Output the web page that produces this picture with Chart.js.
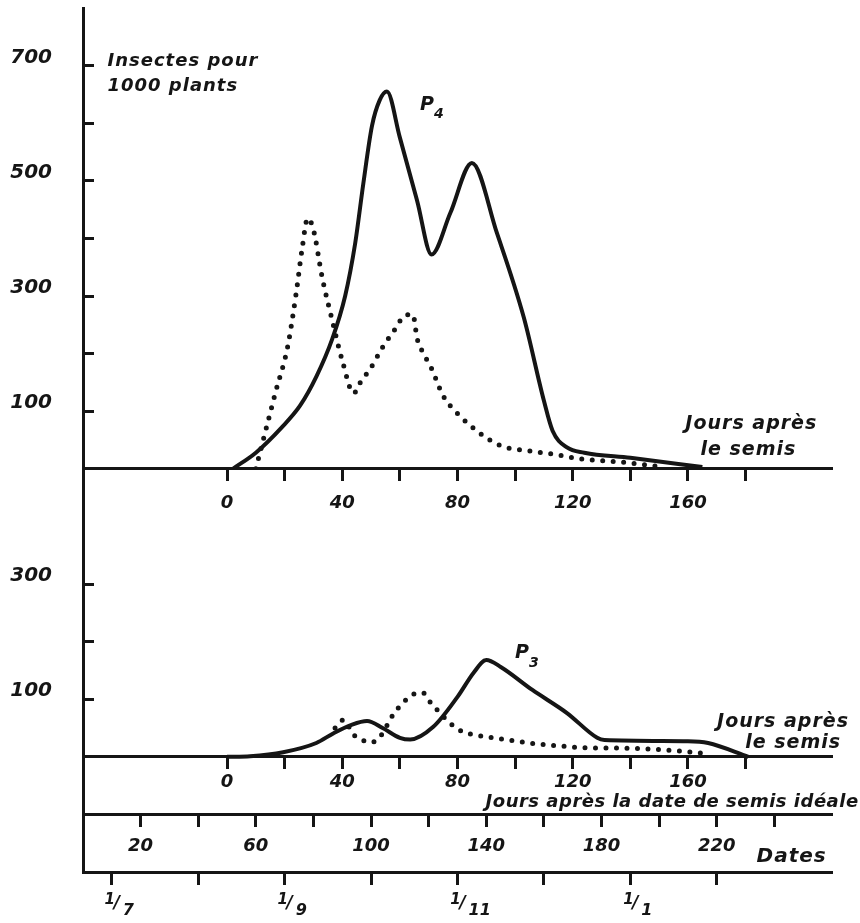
<!DOCTYPE html>
<html>
<head>
<meta charset="utf-8">
<title>Insectes pour 1000 plants - P4 / P3</title>
<script src="https://cdn.jsdelivr.net/npm/chart.js@4.4.1/dist/chart.umd.min.js"></script>
<style>
    html, body { margin: 0; padding: 0; background: #ffffff; }
    #wrap { width: 860px; height: 923px; }
</style>
</head>
<body>
<div id="wrap"><canvas id="myChart" width="860" height="923"></canvas></div>
<script>
// P4 - upper panel (jours apres le semis -> insectes pour 1000 plants)
var p4SolidDays = [2, 10, 19, 25.4, 31, 36.5, 41, 44.5, 47.3, 50.3, 53, 55.5, 60, 66, 71, 77.5, 85, 93.7, 103, 110, 113, 118, 124, 140, 165];
var p4SolidVals = [0, 28, 72, 110, 160, 225, 300, 392, 495, 595, 640, 655, 575, 465, 372, 444, 531, 409, 263, 118, 66, 37, 28, 19, 3];
var p4DotDays = [10, 14, 17, 21, 24, 26, 28, 30, 33, 36.5, 40, 44, 46, 50, 54, 58, 62, 64.5, 66, 68, 71, 75, 80, 88, 95, 105, 115, 123, 136, 150];
var p4DotVals = [0, 78, 136, 211, 305, 380, 435, 415, 333, 258, 188, 131, 148, 176, 211, 240, 267, 268, 226, 202, 174, 127, 96, 61, 40, 31, 24, 17, 12, 4];

// P3 - lower panel
var p3SolidDays = [0, 8, 19.5, 31, 37, 43, 48.6, 54, 60, 63.6, 71.6, 80, 85.6, 90, 95, 106, 118, 128.5, 131, 160, 167, 181];
var p3SolidVals = [0, 1, 8, 24, 41, 55, 62, 50, 33, 30, 52, 104, 146, 168, 156, 116, 76, 33, 29, 27, 24, 0];
var p3DotDays = [37.5, 40.4, 44, 47, 50, 53, 58, 61, 64, 68, 70.5, 73, 77.5, 82, 86, 91, 99, 108, 115, 123, 137, 149, 161.6, 166];
var p3DotVals = [50, 64, 38, 29, 25, 34, 76, 93, 107, 111, 95, 81, 58, 43, 38, 34, 28, 22, 19, 16, 15, 13, 8, 6];

// axis ticks
var sowTicks = [0, 20, 40, 60, 80, 100, 120, 140, 160, 180];
var sowLabels = [0, 40, 80, 120, 160];
var idealTicks = [20, 40, 60, 80, 100, 120, 140, 160, 180, 200, 220, 240];
var idealLabels = [20, 60, 100, 140, 180, 220];
var dateTicks = [10, 40, 70, 100, 130, 160, 190, 220];      // in "jours apres la date ideale"
var dateLabels = ['1/7', '', '1/9', '', '1/11', '', '1/1', ''];
var topTicks = [100, 200, 300, 400, 500, 600, 700];
var topLabels = [100, 300, 500, 700];
var botTicks = [100, 200, 300];
var botLabels = [100, 300];

var INK = '#151515';
var FAMILY = '"DejaVu Sans", sans-serif';

function pts(xs, ys) {
    return xs.map(function(x, i) { return { x: x, y: ys[i] }; });
}

function fixedTicks(list) {
    return function(scale) {
        scale.ticks = list.map(function(v) { return { value: v }; });
    };
}

function onlyLabels(list) {
    return function(value) {
        return list.indexOf(value) >= 0 ? String(value) : '';
    };
}

// labels must not push the plot area around
function noPadding(scale) {
    scale.paddingTop = 0;
    scale.paddingBottom = 0;
    scale.paddingLeft = 0;
    scale.paddingRight = 0;
}

function xAxis(pos, min, max, ticks, labels, pad) {
    return {
        type: 'linear',
        axis: 'x',
        position: pos,
        min: min,
        max: max,
        afterBuildTicks: fixedTicks(ticks),
        afterFit: noPadding,
        border: { display: true, color: INK, width: 3 },
        grid: { drawOnChartArea: false, drawTicks: true, tickLength: 11, tickWidth: 3, tickColor: INK },
        ticks: {
            color: INK,
            padding: pad,
            maxRotation: 0,
            autoSkip: false,
            font: { family: FAMILY, size: 18, style: 'italic', weight: 'bold' },
            callback: labels ? onlyLabels(labels) : function() { return ''; }
        }
    };
}

function yAxis(weight, min, max, ticks, labels) {
    return {
        type: 'linear',
        axis: 'y',
        position: 'left',
        stack: 'panels',
        stackWeight: weight,
        min: min,
        max: max,
        afterBuildTicks: fixedTicks(ticks),
        afterFit: function(scale) { noPadding(scale); scale.width = 83; },
        border: { display: true, color: INK, width: 3 },
        grid: { drawOnChartArea: false, drawTicks: true, tickLength: -11, tickWidth: 3, tickColor: INK },
        ticks: {
            color: INK,
            padding: 42,
            labelOffset: -8,
            autoSkip: false,
            font: { family: FAMILY, size: 20, style: 'italic', weight: 'bold' },
            callback: onlyLabels(labels)
        }
    };
}

// texts written on the figure
const annotations = {
    id: 'annotations',
    afterDraw(chart) {
        const ctx = chart.ctx;
        const s = chart.scales;
        const font = function(px) { return 'italic bold ' + px + 'px ' + FAMILY; };
        ctx.save();
        ctx.fillStyle = INK;
        ctx.textBaseline = 'middle';

        ctx.font = font(18);
        ctx.letterSpacing = '1px';
        ctx.textAlign = 'left';
        ctx.fillText('Insectes pour', s.xTop.getPixelForValue(-41.5), s.yTop.getPixelForValue(707));
        ctx.fillText('1000 plants', s.xTop.getPixelForValue(-41.5), s.yTop.getPixelForValue(664));

        ctx.font = font(19);
        ctx.textAlign = 'center';
        ctx.fillText('Jours après', s.xTop.getPixelForValue(182), s.yTop.getPixelForValue(78));
        ctx.fillText('le semis', s.xTop.getPixelForValue(181), s.yTop.getPixelForValue(32));
        ctx.fillText('Jours après', s.xBot.getPixelForValue(193), s.yBot.getPixelForValue(60));
        ctx.fillText('le semis', s.xBot.getPixelForValue(196.5), s.yBot.getPixelForValue(24));
        ctx.font = font(18);
        ctx.letterSpacing = '0.5px';
        ctx.fillText('Jours après la date de semis idéale', s.xIdeal.getPixelForValue(204.5), s.yBot.getPixelForValue(-79));
        ctx.font = font(20);
        ctx.letterSpacing = '1px';
        ctx.fillText('Dates', s.xIdeal.getPixelForValue(246), s.yBot.getPixelForValue(-174));
        ctx.letterSpacing = '0px';

        // curve names with subscript
        ctx.textAlign = 'left';
        var px = s.xTop.getPixelForValue(67), py = s.yTop.getPixelForValue(632);
        ctx.font = font(19);
        ctx.fillText('P', px, py);
        ctx.font = font(14);
        ctx.fillText('4', px + 14, py + 10);
        px = s.xBot.getPixelForValue(100);
        py = s.yBot.getPixelForValue(180);
        ctx.font = font(19);
        ctx.fillText('P', px, py);
        ctx.font = font(14);
        ctx.fillText('3', px + 14, py + 10);

        // month labels written as 1/7, 1/9 ...
        var yb = s.yBot.getPixelForValue(-200);
        dateTicks.forEach(function(v, i) {
            var lab = dateLabels[i];
            if (!lab) return;
            var parts = lab.split('/');
            var x = s.xDates.getPixelForValue(v) + 6;
            ctx.textAlign = 'center';
            ctx.font = font(15);
            ctx.fillText(parts[0], x - 8, yb + 28);
            ctx.font = font(17);
            ctx.fillText('/', x - 1, yb + 32);
            ctx.textAlign = 'left';
            ctx.font = font(16);
            ctx.fillText(parts[1], x + 5, yb + 39);
        });
        ctx.restore();
    }
};

var ctx = document.getElementById('myChart').getContext('2d');
var myChart = new Chart(ctx, {
    type: 'line',
    data: {
        datasets: [
            {
                label: 'P4',
                data: pts(p4SolidDays, p4SolidVals),
                xAxisID: 'xTop', yAxisID: 'yTop',
                borderColor: INK, borderWidth: 4, borderJoinStyle: 'round',
                pointRadius: 0, cubicInterpolationMode: 'monotone'
            },
            {
                label: 'P4 pointillé',
                data: pts(p4DotDays, p4DotVals),
                xAxisID: 'xTop', yAxisID: 'yTop',
                borderColor: INK, borderWidth: 5, borderDash: [0, 10.5], borderCapStyle: 'round',
                pointRadius: 0, cubicInterpolationMode: 'monotone'
            },
            {
                label: 'P3',
                data: pts(p3SolidDays, p3SolidVals),
                xAxisID: 'xBot', yAxisID: 'yBot',
                borderColor: INK, borderWidth: 4, borderJoinStyle: 'round',
                pointRadius: 0, cubicInterpolationMode: 'monotone'
            },
            {
                label: 'P3 pointillé',
                data: pts(p3DotDays, p3DotVals),
                xAxisID: 'xBot', yAxisID: 'yBot',
                borderColor: INK, borderWidth: 5, borderDash: [0, 10.5], borderCapStyle: 'round',
                pointRadius: 0, cubicInterpolationMode: 'monotone'
            }
        ]
    },
    options: {
        responsive: false,
        animation: false,
        layout: { padding: { top: 8, right: 28, bottom: 51, left: 0 } },
        plugins: {
            legend: { display: false },
            tooltip: { enabled: false }
        },
        scales: {
            yBot: yAxis(700, -200, 500, botTicks, botLabels),
            yTop: yAxis(800, 0, 800, topTicks, topLabels),
            xTop: xAxis({ yTop: 0 }, -50, 210, sowTicks, sowLabels, 13),
            xBot: xAxis({ yBot: 0 }, -50, 210, sowTicks, sowLabels, 4),
            xIdeal: xAxis({ yBot: -100 }, 0, 260, idealTicks, idealLabels, 10),
            xDates: xAxis({ yBot: -200 }, 0, 260, dateTicks, null, 0)
        }
    },
    plugins: [annotations]
});
</script>
</body>
</html>
